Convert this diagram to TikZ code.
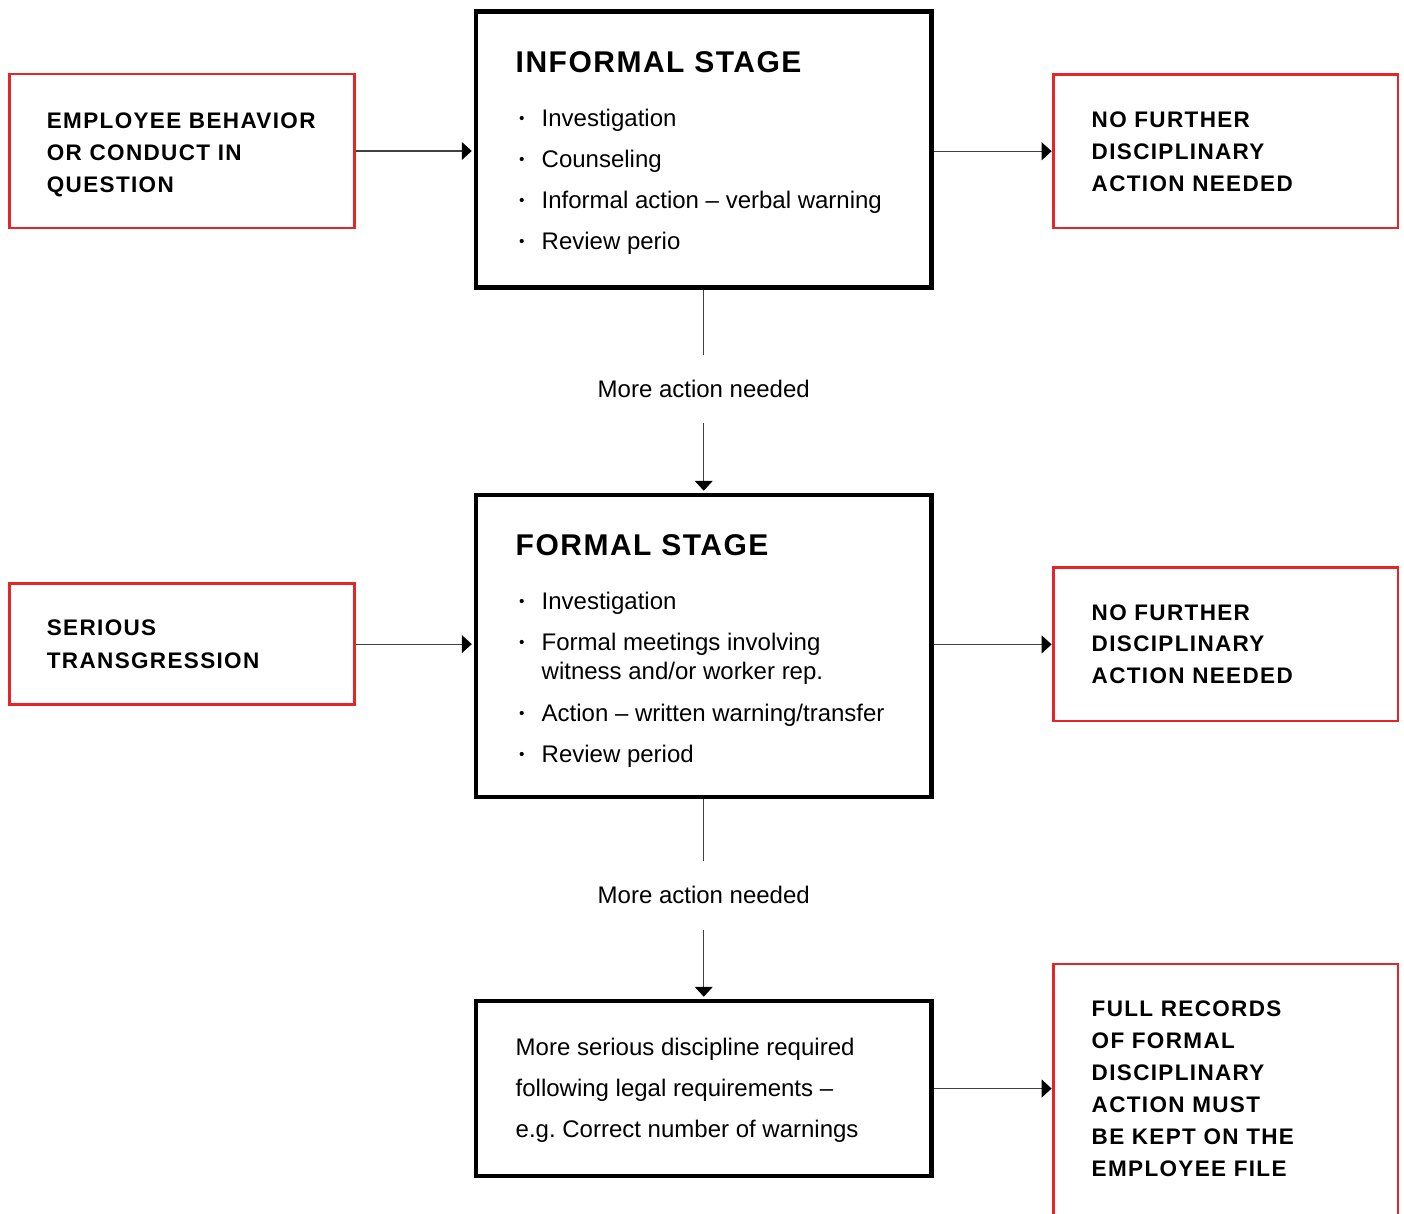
\documentclass[tikz,border=0pt]{standalone}
\usepackage{fontspec}
\setmainfont{Liberation Sans}
\newfontfamily\capsfont[LetterSpace=6]{Liberation Sans}
\newfontfamily\headfont[LetterSpace=5]{Liberation Sans}
\usetikzlibrary{arrows.meta}
\definecolor{boxred}{RGB}{229,38,41}

\begin{document}
\begin{tikzpicture}[x = 1pt, y = -1pt]
\tikzstyle{stageStyle} = [draw, line width = 4.5pt, inner sep = 0pt, minimum width = 455.5pt]
\tikzstyle{outcomeStyle} = [draw = boxred, line width = 2.7pt, inner sep = 0pt, minimum width = 344.6pt]
\tikzstyle{headStyle} = [anchor = base west, inner sep = 0pt, font = \headfont\bfseries\fontsize{30}{36}\selectfont]
\tikzstyle{capsStyle} = [anchor = base west, inner sep = 0pt, font = \capsfont\bfseries\fontsize{22.5}{27}\selectfont]
\tikzstyle{bodyStyle} = [anchor = base west, inner sep = 0pt, font = \fontsize{24}{29}\selectfont]
\tikzstyle{noteStyle} = [anchor = base, inner xsep = 0pt, inner ysep = 26pt, text height = 16pt, text depth = 0pt, font = \fontsize{24}{29}\selectfont]
\tikzstyle{dotStyle} = [circle, fill, inner sep = 0pt, minimum size = 4.2pt]
\tikzstyle{lineStyle} = [line width = 1.2pt, draw = black!75]
\tikzstyle{arrowStyle} = [line width = 1.2pt, draw = black!75, -{Triangle[length = 10pt, width = 18pt, color = black]}, shorten > = 2pt]
\clip (0,0) rectangle (1404,1213);
% boxes
\node[stageStyle, minimum height = 275.8pt] (inf) at (703.75,149.6) {};
\node[stageStyle, minimum height = 302pt] (form) at (703.75,646) {};
\node[stageStyle, minimum height = 175pt] (more) at (703.75,1088.5) {};
\node[outcomeStyle, minimum height = 154pt] (emp) at (182.1,151) {};
\node[outcomeStyle, minimum height = 121.2pt] (ser) at (182.1,644.1) {};
\node[outcomeStyle, minimum height = 153.5pt] (nf1) at (1225.75,151.25) {};
\node[outcomeStyle, minimum height = 153.2pt] (nf2) at (1225.75,644.4) {};
\node[outcomeStyle, minimum height = 276pt] (rec) at (1225.75,1102) {};
% informal stage
\node[headStyle] (infT) at (515.5,72) {INFORMAL STAGE};
\node[dotStyle] (infD1) at (521.7,118) {};
\node[bodyStyle] (infL1) at (541.5,126) {Investigation};
\node[dotStyle] (infD2) at (521.7,159) {};
\node[bodyStyle] (infL2) at (541.5,167) {Counseling};
\node[dotStyle] (infD3) at (521.7,200) {};
\node[bodyStyle] (infL3) at (541.5,208) {Informal action – verbal warning};
\node[dotStyle] (infD4) at (521.7,241) {};
\node[bodyStyle] (infL4) at (541.5,249) {Review perio};
% formal stage
\node[headStyle] (formT) at (515.5,555) {FORMAL STAGE};
\node[dotStyle] (formD1) at (521.7,601) {};
\node[bodyStyle] (formL1) at (541.5,609) {Investigation};
\node[dotStyle] (formD2) at (521.7,642) {};
\node[bodyStyle] (formL2) at (541.5,650) {Formal meetings involving};
\node[bodyStyle] (formL2b) at (541.5,679) {witness and/or worker rep.};
\node[dotStyle] (formD3) at (521.7,713) {};
\node[bodyStyle] (formL3) at (541.5,721) {Action – written warning/transfer};
\node[dotStyle] (formD4) at (521.7,754) {};
\node[bodyStyle] (formL4) at (541.5,762) {Review period};
% serious discipline
\node[bodyStyle] (moreL1) at (515.5,1055) {More serious discipline required};
\node[bodyStyle] (moreL2) at (515.5,1096.7) {following legal requirements –};
\node[bodyStyle] (moreL3) at (515.5,1137.7) {e.g.\ Correct number of warnings};
% red boxes
\node[capsStyle] (empL1) at (46.7,128.3) {EMPLOYEE BEHAVIOR};
\node[capsStyle] (empL2) at (46.7,160.3) {OR CONDUCT IN};
\node[capsStyle] (empL3) at (46.7,192.3) {QUESTION};
\node[capsStyle] (serL1) at (46.7,635.7) {SERIOUS};
\node[capsStyle] (serL2) at (46.7,668.3) {TRANSGRESSION};
\node[capsStyle] (nf1L1) at (1091.5,127.7) {NO FURTHER};
\node[capsStyle] (nf1L2) at (1091.5,159.7) {DISCIPLINARY};
\node[capsStyle] (nf1L3) at (1091.5,191.7) {ACTION NEEDED};
\node[capsStyle] (nf2L1) at (1091.5,620) {NO FURTHER};
\node[capsStyle] (nf2L2) at (1091.5,651.7) {DISCIPLINARY};
\node[capsStyle] (nf2L3) at (1091.5,683.3) {ACTION NEEDED};
\node[capsStyle] (recL1) at (1091.5,1016.7) {FULL RECORDS};
\node[capsStyle] (recL2) at (1091.5,1048.7) {OF FORMAL};
\node[capsStyle] (recL3) at (1091.5,1080.7) {DISCIPLINARY};
\node[capsStyle] (recL4) at (1091.5,1112.5) {ACTION MUST};
\node[capsStyle] (recL5) at (1091.5,1144.5) {BE KEPT ON THE};
\node[capsStyle] (recL6) at (1091.5,1176.5) {EMPLOYEE FILE};
% notes
\node[noteStyle] (lab1) at (703.75,397) {More action needed};
\node[noteStyle] (lab2) at (703.75,903.3) {More action needed};
% connectors
\path
(inf.south) edge [lineStyle] (lab1.north)
(lab1.south) edge [arrowStyle] (form.north)
(form.south) edge [lineStyle] (lab2.north)
(lab2.south) edge [arrowStyle] (more.north)
(emp.east) edge [arrowStyle] (emp.east -| inf.west)
(ser.east) edge [arrowStyle] (ser.east -| form.west)
(inf.east |- nf1.west) edge [arrowStyle, shorten > = 0.5pt] (nf1.west)
(form.east |- nf2.west) edge [arrowStyle, shorten > = 0.5pt] (nf2.west)
(more.east) edge [arrowStyle, shorten > = 0.5pt] (more.east -| rec.west);
\end{tikzpicture}
\end{document}
